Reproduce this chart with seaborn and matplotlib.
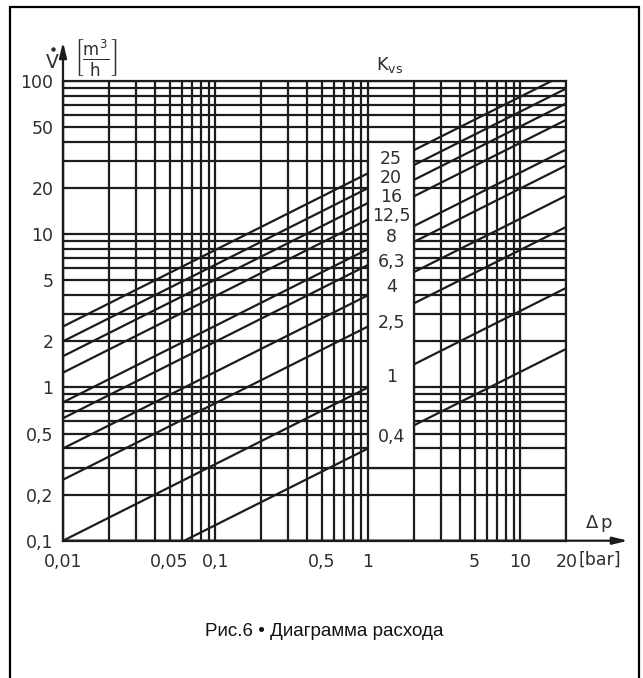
import numpy as np
import pandas as pd
import matplotlib
matplotlib.use("Agg")
import matplotlib.pyplot as plt
import seaborn as sns
from matplotlib.patches import Rectangle
from matplotlib.lines import Line2D

# ---------------- data ----------------
kvs_labels = ["0,4", "1", "2,5", "4", "6,3", "8", "12,5", "16", "20", "25"]
kvs = [0.4, 1, 2.5, 4, 6.3, 8, 12.5, 16, 20, 25]
# flow at dp = 0.01, 1, 2, 20 bar
flow_at_001 = [0.04, 0.1, 0.25, 0.4, 0.63, 0.8, 1.25, 1.6, 2.0, 2.5]
flow_at_1 = [0.4, 1, 2.5, 4, 6.3, 8, 12.5, 16, 20, 25]
flow_at_2 = [0.566, 1.414, 3.54, 5.66, 8.91, 11.31, 17.68, 22.63, 28.28, 35.36]
flow_at_20 = [1.789, 4.472, 11.18, 17.89, 28.17, 35.78, 55.9, 71.55, 89.44, 111.8]
dp_left = [0.01, 1]
dp_right = [2, 20]
label_flow = [0.475, 1.17, 2.64, 4.53, 6.59, 9.59, 13.15, 17.5, 23.3, 31.0]
label_dp = 1.42

x_ticks = [0.01, 0.05, 0.1, 0.5, 1, 5, 10, 20]
x_ticklabels = ["0,01", "0,05", "0,1", "0,5", "1", "5", "10", "20"]
y_ticks = [0.1, 0.2, 0.5, 1, 2, 5, 10, 20, 50, 100]
y_ticklabels = ["0,1", "0,2", "0,5", "1", "2", "5", "10", "20", "50", "100"]
x_grid = [m * d for d in (0.01, 0.1, 1) for m in range(1, 10)] + [10, 20]
y_grid = [m * d for d in (0.1, 1, 10) for m in range(1, 10)] + [100]
gap_dp = [1, 2]
gap_flow = [0.3, 40]

rows = []
for i, k in enumerate(kvs):
    rows.append((dp_left[0], flow_at_001[i], f"{k}-a"))
    rows.append((dp_left[1], flow_at_1[i], f"{k}-a"))
    rows.append((dp_right[0], flow_at_2[i], f"{k}-b"))
    rows.append((dp_right[1], flow_at_20[i], f"{k}-b"))
df = pd.DataFrame(rows, columns=["dp", "flow", "segment"])

# ---------------- style ----------------
sns.set_style("white")
plt.rcParams["font.family"] = ["DejaVu Sans"]
plt.rcParams["mathtext.fontset"] = "dejavusans"
LC = "#1c1c1c"
TC = "#2e2e2e"
LW = 1.6

W, H = 643, 678
fig = plt.figure(figsize=(W / 100, H / 100), dpi=100)
ax_l, ax_r, ax_t, ax_b = 63, 566.4, 81, 540.7
ax = fig.add_axes([ax_l / W, 1 - ax_b / H, (ax_r - ax_l) / W, (ax_b - ax_t) / H])

sns.lineplot(data=df, x="dp", y="flow", units="segment", estimator=None,
             sort=False, color=LC, lw=LW, ax=ax, legend=False, zorder=2)
ax.set_xscale("log")
ax.set_yscale("log")
ax.set_xlim(0.01, 20)
ax.set_ylim(0.1, 100)
ax.set_xlabel("")
ax.set_ylabel("")

for v in x_grid:
    ax.axvline(v, color=LC, lw=LW, zorder=1)
for v in y_grid:
    ax.axhline(v, color=LC, lw=LW, zorder=1)

ax.set_xticks(x_ticks)
ax.set_xticklabels(x_ticklabels)
ax.set_yticks(y_ticks)
ax.set_yticklabels(y_ticklabels)
ax.minorticks_off()
ax.tick_params(axis="both", which="major", direction="out", length=5,
               width=LW, color=LC, labelsize=12.5, labelcolor=TC)
ax.tick_params(axis="x", pad=4)
ax.tick_params(axis="y", pad=2)
for s in ax.spines.values():
    s.set_color(LC)
    s.set_linewidth(LW)

# white gap with labels
ax.add_patch(Rectangle((gap_dp[0], gap_flow[0]), gap_dp[1] - gap_dp[0],
                       gap_flow[1] - gap_flow[0], facecolor="white",
                       edgecolor=LC, lw=LW, zorder=3))
for lab, fy in zip(kvs_labels, label_flow):
    ax.text(label_dp, fy, lab, ha="center", va="center", fontsize=12.5,
            color=TC, zorder=4)

# axis arrows
ax.annotate("", xy=(0, 1 + (ax_t - 42) / (ax_b - ax_t)), xycoords="axes fraction",
            xytext=(0, 0), textcoords="axes fraction", annotation_clip=False,
            arrowprops=dict(arrowstyle="-|>,head_length=0.9,head_width=0.22",
                            color=LC, lw=LW, shrinkA=0, shrinkB=0))
ax.annotate("", xy=(1 + (628 - ax_r) / (ax_r - ax_l), 0), xycoords="axes fraction",
            xytext=(0, 0), textcoords="axes fraction", annotation_clip=False,
            arrowprops=dict(arrowstyle="-|>,head_length=0.9,head_width=0.22",
                            color=LC, lw=LW, shrinkA=0, shrinkB=0))

def ftext(px, py, s, **kw):
    fig.text(px / W, 1 - py / H, s, **kw)

ftext(52, 62, "V", ha="center", va="center", fontsize=13.5, color=TC)
# dot over the V (flow rate)
fig.add_artist(Line2D([52.5 / W], [1 - 49 / H], transform=fig.transFigure,
                      marker="o", markersize=2.2, color=TC, lw=0))
ftext(96, 57, r"$\left[\frac{\mathrm{m}^3}{\mathrm{h}}\right]$", ha="center",
      va="center", fontsize=17, color=TC)
ftext(390, 65, r"$\mathrm{K}_{\mathrm{vs}}$", ha="center", va="center",
      fontsize=13, color=TC)
ftext(599, 524, r"$\Delta\,\mathrm{p}$", ha="center", va="center", fontsize=13,
      color=TC)
ftext(600, 560, "[bar]", ha="center", va="center", fontsize=12.5, color=TC)

ftext(324, 632, "Рис.6 • Диаграмма расхода", ha="center", va="center",
      fontsize=13.5, color="#111111", family=["Liberation Sans", "DejaVu Sans"])

# outer frame
for xs, ys in [((10, 10), (7, H + 5)), ((10, 639), (7, 7)), ((639, 639), (7, H + 5))]:
    fig.add_artist(Line2D([x / W for x in xs], [1 - y / H for y in ys],
                          transform=fig.transFigure, color="black", lw=1.6))

fig.savefig("out.png", dpi=100)
